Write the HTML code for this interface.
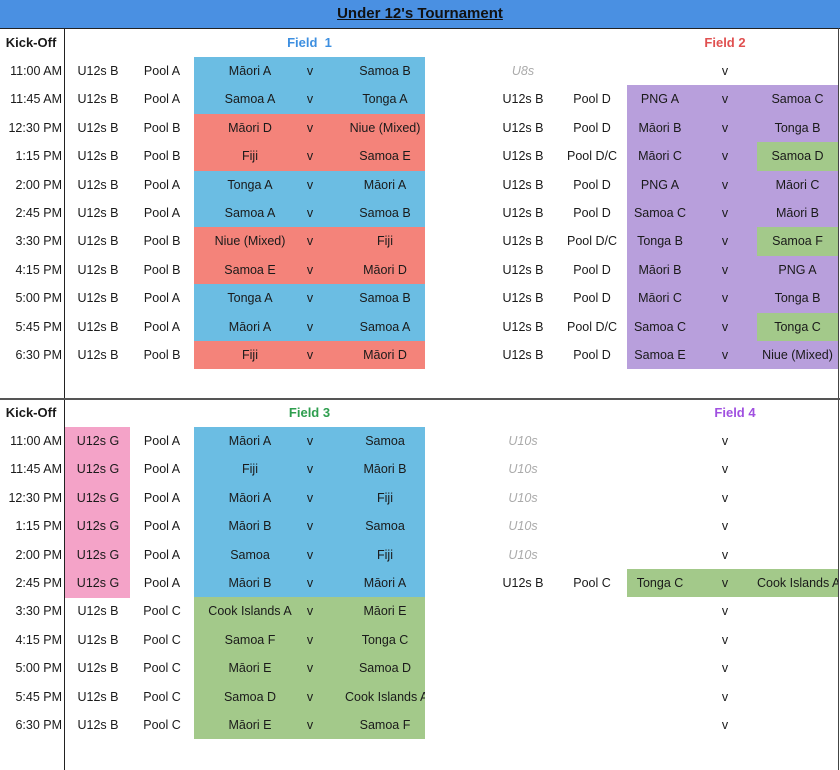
<!DOCTYPE html>
<html><head><meta charset="utf-8"><style>
body{margin:0;width:840px;height:770px;background:#fff;font-family:"Liberation Sans",sans-serif;font-size:12.5px;color:#1a1a1a;position:relative;overflow:hidden}
.a{position:absolute}
.r{position:absolute;left:0;width:840px;height:28.4px}
.r span{position:absolute;top:0;height:28.4px;line-height:29px;text-align:center;white-space:nowrap;overflow:hidden}
.t{left:0;width:62px;text-align:right!important}
.g{left:66px;width:64px}.p{left:130px;width:64px}
.b1{left:194px;width:231px}.t1{left:194px;width:112px}.v{left:290px;width:40px}.t2{left:345px;width:80px}
.g2{left:490px;width:66px}.p2{left:560px;width:64px}
.b2{left:627px;width:211px}.u1{left:627px;width:66px}.v2{left:705px;width:40px}.u2{left:757px;width:81px}
.bl{background:#6bbde3}.rd{background:#f4837a}.pu{background:#b89fdc}.gr{background:#a3c98a}.pk{background:#f4a3c8}
.i{color:#aaa;font-style:italic}
.h{font-weight:bold;font-size:13px}
</style></head><body>
<div class="a" style="left:0;top:0;width:840px;height:28px;background:#4a90e2;text-align:center;line-height:28px;font-size:15px;font-weight:bold;color:#111;text-decoration:underline">Under 12's Tournament</div>
<div class="a" style="left:0;top:28px;width:840px;height:1px;background:#222"></div>
<div class="a" style="left:64px;top:28px;width:1px;height:742px;background:#222"></div>
<div class="a" style="left:838px;top:28px;width:1px;height:742px;background:#444"></div>
<div class="a" style="left:0;top:398px;width:840px;height:2px;background:#555"></div>
<div class="a pk" style="left:65px;top:427px;width:65px;height:171px"></div>

<div class="r" style="top:28px"><span class="h" style="left:0;width:62px">Kick-Off</span><span class="h" style="left:194px;width:231px;color:#3d8fe0">Field&nbsp; 1</span><span class="h" style="left:685px;width:80px;color:#e05050">Field 2</span></div>
<div class="r" style="top:57px"><span class="t">11:00 AM</span><span class="g">U12s B</span><span class="p">Pool A</span><span class="b1 bl"></span><span class="t1">Māori A</span><span class="v">v</span><span class="t2">Samoa B</span><span class="g2 i">U8s</span><span class="v2">v</span></div>
<div class="r" style="top:85.4px"><span class="t">11:45 AM</span><span class="g">U12s B</span><span class="p">Pool A</span><span class="b1 bl"></span><span class="t1">Samoa A</span><span class="v">v</span><span class="t2">Tonga A</span><span class="g2">U12s B</span><span class="p2">Pool D</span><span class="b2 pu"></span><span class="u1">PNG A</span><span class="v2">v</span><span class="u2">Samoa C</span></div>
<div class="r" style="top:113.8px"><span class="t">12:30 PM</span><span class="g">U12s B</span><span class="p">Pool B</span><span class="b1 rd"></span><span class="t1">Māori D</span><span class="v">v</span><span class="t2">Niue (Mixed)</span><span class="g2">U12s B</span><span class="p2">Pool D</span><span class="b2 pu"></span><span class="u1">Māori B</span><span class="v2">v</span><span class="u2">Tonga B</span></div>
<div class="r" style="top:142.2px"><span class="t">1:15 PM</span><span class="g">U12s B</span><span class="p">Pool B</span><span class="b1 rd"></span><span class="t1">Fiji</span><span class="v">v</span><span class="t2">Samoa E</span><span class="g2">U12s B</span><span class="p2">Pool D/C</span><span class="b2 pu"></span><span class="u1">Māori C</span><span class="v2">v</span><span class="u2 gr">Samoa D</span></div>
<div class="r" style="top:170.6px"><span class="t">2:00 PM</span><span class="g">U12s B</span><span class="p">Pool A</span><span class="b1 bl"></span><span class="t1">Tonga A</span><span class="v">v</span><span class="t2">Māori A</span><span class="g2">U12s B</span><span class="p2">Pool D</span><span class="b2 pu"></span><span class="u1">PNG A</span><span class="v2">v</span><span class="u2">Māori C</span></div>
<div class="r" style="top:199px"><span class="t">2:45 PM</span><span class="g">U12s B</span><span class="p">Pool A</span><span class="b1 bl"></span><span class="t1">Samoa A</span><span class="v">v</span><span class="t2">Samoa B</span><span class="g2">U12s B</span><span class="p2">Pool D</span><span class="b2 pu"></span><span class="u1">Samoa C</span><span class="v2">v</span><span class="u2">Māori B</span></div>
<div class="r" style="top:227.4px"><span class="t">3:30 PM</span><span class="g">U12s B</span><span class="p">Pool B</span><span class="b1 rd"></span><span class="t1">Niue (Mixed)</span><span class="v">v</span><span class="t2">Fiji</span><span class="g2">U12s B</span><span class="p2">Pool D/C</span><span class="b2 pu"></span><span class="u1">Tonga B</span><span class="v2">v</span><span class="u2 gr">Samoa F</span></div>
<div class="r" style="top:255.8px"><span class="t">4:15 PM</span><span class="g">U12s B</span><span class="p">Pool B</span><span class="b1 rd"></span><span class="t1">Samoa E</span><span class="v">v</span><span class="t2">Māori D</span><span class="g2">U12s B</span><span class="p2">Pool D</span><span class="b2 pu"></span><span class="u1">Māori B</span><span class="v2">v</span><span class="u2">PNG A</span></div>
<div class="r" style="top:284.2px"><span class="t">5:00 PM</span><span class="g">U12s B</span><span class="p">Pool A</span><span class="b1 bl"></span><span class="t1">Tonga A</span><span class="v">v</span><span class="t2">Samoa B</span><span class="g2">U12s B</span><span class="p2">Pool D</span><span class="b2 pu"></span><span class="u1">Māori C</span><span class="v2">v</span><span class="u2">Tonga B</span></div>
<div class="r" style="top:312.6px"><span class="t">5:45 PM</span><span class="g">U12s B</span><span class="p">Pool A</span><span class="b1 bl"></span><span class="t1">Māori A</span><span class="v">v</span><span class="t2">Samoa A</span><span class="g2">U12s B</span><span class="p2">Pool D/C</span><span class="b2 pu"></span><span class="u1">Samoa C</span><span class="v2">v</span><span class="u2 gr">Tonga C</span></div>
<div class="r" style="top:341px"><span class="t">6:30 PM</span><span class="g">U12s B</span><span class="p">Pool B</span><span class="b1 rd"></span><span class="t1">Fiji</span><span class="v">v</span><span class="t2">Māori D</span><span class="g2">U12s B</span><span class="p2">Pool D</span><span class="b2 pu"></span><span class="u1">Samoa E</span><span class="v2">v</span><span class="u2">Niue (Mixed)</span></div>

<div class="r" style="top:398px"><span class="h" style="left:0;width:62px">Kick-Off</span><span class="h" style="left:194px;width:231px;color:#2e9e4e">Field 3</span><span class="h" style="left:695px;width:80px;color:#a050e0">Field 4</span></div>
<div class="r" style="top:427px"><span class="t">11:00 AM</span><span class="g">U12s G</span><span class="p">Pool A</span><span class="b1 bl"></span><span class="t1">Māori A</span><span class="v">v</span><span class="t2">Samoa</span><span class="g2 i">U10s</span><span class="v2">v</span></div>
<div class="r" style="top:455.4px"><span class="t">11:45 AM</span><span class="g">U12s G</span><span class="p">Pool A</span><span class="b1 bl"></span><span class="t1">Fiji</span><span class="v">v</span><span class="t2">Māori B</span><span class="g2 i">U10s</span><span class="v2">v</span></div>
<div class="r" style="top:483.8px"><span class="t">12:30 PM</span><span class="g">U12s G</span><span class="p">Pool A</span><span class="b1 bl"></span><span class="t1">Māori A</span><span class="v">v</span><span class="t2">Fiji</span><span class="g2 i">U10s</span><span class="v2">v</span></div>
<div class="r" style="top:512.2px"><span class="t">1:15 PM</span><span class="g">U12s G</span><span class="p">Pool A</span><span class="b1 bl"></span><span class="t1">Māori B</span><span class="v">v</span><span class="t2">Samoa</span><span class="g2 i">U10s</span><span class="v2">v</span></div>
<div class="r" style="top:540.6px"><span class="t">2:00 PM</span><span class="g">U12s G</span><span class="p">Pool A</span><span class="b1 bl"></span><span class="t1">Samoa</span><span class="v">v</span><span class="t2">Fiji</span><span class="g2 i">U10s</span><span class="v2">v</span></div>
<div class="r" style="top:569px"><span class="t">2:45 PM</span><span class="g">U12s G</span><span class="p">Pool A</span><span class="b1 bl"></span><span class="t1">Māori B</span><span class="v">v</span><span class="t2">Māori A</span><span class="g2">U12s B</span><span class="p2">Pool C</span><span class="b2 gr"></span><span class="u1">Tonga C</span><span class="v2">v</span><span class="u2">Cook Islands A</span></div>
<div class="r" style="top:597.4px"><span class="t">3:30 PM</span><span class="g">U12s B</span><span class="p">Pool C</span><span class="b1 gr"></span><span class="t1">Cook Islands A</span><span class="v">v</span><span class="t2">Māori E</span><span class="v2">v</span></div>
<div class="r" style="top:625.8px"><span class="t">4:15 PM</span><span class="g">U12s B</span><span class="p">Pool C</span><span class="b1 gr"></span><span class="t1">Samoa F</span><span class="v">v</span><span class="t2">Tonga C</span><span class="v2">v</span></div>
<div class="r" style="top:654.2px"><span class="t">5:00 PM</span><span class="g">U12s B</span><span class="p">Pool C</span><span class="b1 gr"></span><span class="t1">Māori E</span><span class="v">v</span><span class="t2">Samoa D</span><span class="v2">v</span></div>
<div class="r" style="top:682.6px"><span class="t">5:45 PM</span><span class="g">U12s B</span><span class="p">Pool C</span><span class="b1 gr"></span><span class="t1">Samoa D</span><span class="v">v</span><span class="t2">Cook Islands A</span><span class="v2">v</span></div>
<div class="r" style="top:711px"><span class="t">6:30 PM</span><span class="g">U12s B</span><span class="p">Pool C</span><span class="b1 gr"></span><span class="t1">Māori E</span><span class="v">v</span><span class="t2">Samoa F</span><span class="v2">v</span></div>
</body></html>
